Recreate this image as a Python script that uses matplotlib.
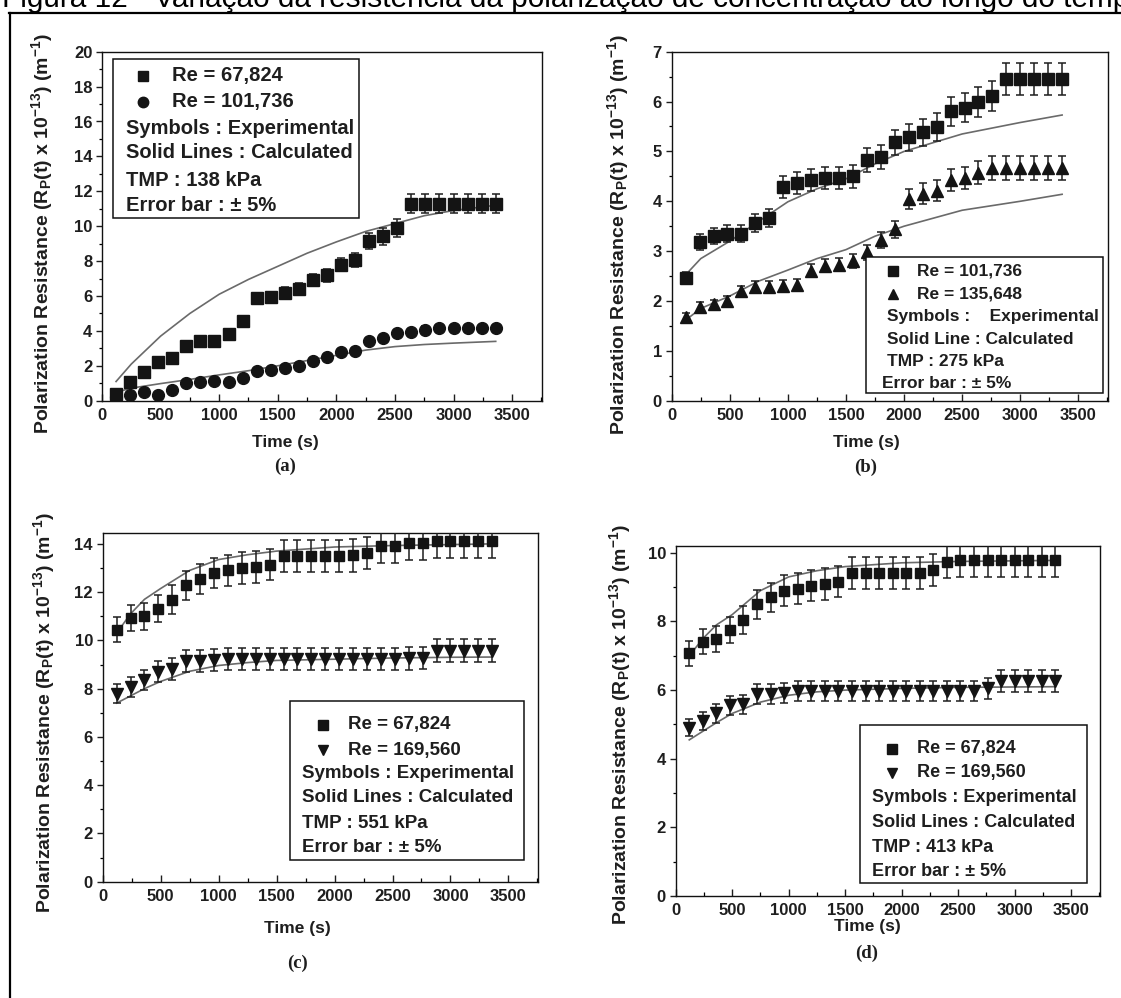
import matplotlib
matplotlib.use("Agg")
import matplotlib.pyplot as plt
from matplotlib.lines import Line2D
from matplotlib.patches import Rectangle
from matplotlib.ticker import MultipleLocator
import numpy as np

plt.rcParams['font.family'] = ['Liberation Sans', 'DejaVu Sans']
plt.rcParams['mathtext.fontset'] = 'custom'
plt.rcParams['mathtext.rm'] = 'Liberation Sans:bold'
plt.rcParams['mathtext.bf'] = 'Liberation Sans:bold'
plt.rcParams['mathtext.default'] = 'bf'

W, H = 1121, 998
TXT = '#1e1e1e'

# ---------------- data ----------------
time_s = [120, 240, 360, 480, 600, 720, 840, 960, 1080, 1200, 1320, 1440, 1560, 1680,
          1800, 1920, 2040, 2160, 2280, 2400, 2520, 2640, 2760, 2880, 3000, 3120, 3240, 3360]

# (a) TMP 138 kPa
a_re67824 = [0.4, 1.1, 1.63, 2.2, 2.45, 3.16, 3.44, 3.44, 3.8, 4.54, 5.88, 5.93, 6.2, 6.4,
             6.9, 7.18, 7.8, 8.04, 9.15, 9.42, 9.9, 11.3, 11.3, 11.3, 11.3, 11.3, 11.3, 11.3]
a_re101736 = [0.2, 0.3, 0.48, 0.33, 0.6, 1.0, 1.1, 1.15, 1.1, 1.28, 1.72, 1.76, 1.9, 2.0,
              2.3, 2.49, 2.78, 2.87, 3.44, 3.6, 3.87, 3.92, 4.08, 4.15, 4.15, 4.15, 4.15, 4.15]
a_calc_t = [120, 250, 500, 750, 1000, 1250, 1500, 1750, 2000, 2250, 2500, 2750, 3000, 3360]
a_calc_67824 = [1.1, 2.1, 3.7, 5.0, 6.1, 6.95, 7.7, 8.45, 9.1, 9.7, 10.15, 10.6, 10.9, 11.2]
a_calc_101736 = [0.48, 0.72, 0.98, 1.22, 1.48, 1.72, 2.0, 2.3, 2.6, 2.9, 3.1, 3.22, 3.3, 3.4]

# (b) TMP 275 kPa
b_re101736 = [2.46, 3.19, 3.3, 3.35, 3.35, 3.56, 3.66, 4.29, 4.37, 4.42, 4.47, 4.47, 4.5, 4.82,
              4.89, 5.18, 5.28, 5.38, 5.49, 5.81, 5.88, 5.99, 6.11, 6.46, 6.46, 6.46, 6.46, 6.46]
b_re135648 = [1.67, 1.88, 1.93, 2.0, 2.2, 2.29, 2.29, 2.31, 2.33, 2.61, 2.71, 2.73, 2.8, 2.98,
              3.23, 3.44, 4.05, 4.15, 4.21, 4.43, 4.47, 4.57, 4.67, 4.67, 4.67, 4.67, 4.67, 4.67]
b_calc_t = [150, 250, 500, 750, 1000, 1250, 1500, 1750, 2000, 2500, 3000, 3360]
b_calc_101736 = [2.6, 2.85, 3.2, 3.6, 3.99, 4.25, 4.45, 4.75, 5.0, 5.35, 5.58, 5.73]
b_calc_135648 = [1.67, 1.85, 2.1, 2.4, 2.62, 2.85, 3.03, 3.3, 3.5, 3.82, 4.0, 4.14]

# (c) TMP 551 kPa
c_re67824 = [10.44, 10.93, 11.0, 11.31, 11.69, 12.28, 12.54, 12.79, 12.9, 13.0, 13.04, 13.14, 13.49, 13.49,
             13.49, 13.49, 13.49, 13.52, 13.62, 13.9, 13.9, 14.04, 14.04, 14.13, 14.13, 14.13, 14.13, 14.13]
c_re169560 = [7.79, 8.06, 8.37, 8.71, 8.81, 9.13, 9.13, 9.2, 9.22, 9.22, 9.22, 9.22, 9.22, 9.22,
              9.22, 9.22, 9.22, 9.22, 9.22, 9.22, 9.22, 9.25, 9.27, 9.58, 9.58, 9.58, 9.58, 9.58]
c_calc_t = [120, 240, 360, 500, 750, 1000, 1250, 1500, 2000, 2500, 3000, 3360]
c_calc_67824 = [10.3, 11.1, 11.7, 12.15, 12.9, 13.35, 13.55, 13.7, 13.87, 13.93, 13.97, 14.0]
c_calc_169560 = [7.4, 7.7, 8.0, 8.3, 8.72, 8.96, 9.08, 9.17, 9.22, 9.27, 9.3, 9.31]

# (d) TMP 413 kPa
d_re67824 = [7.07, 7.41, 7.49, 7.75, 8.04, 8.5, 8.7, 8.9, 8.96, 9.04, 9.09, 9.16, 9.42, 9.42,
             9.42, 9.42, 9.42, 9.42, 9.5, 9.74, 9.79, 9.79, 9.79, 9.79, 9.79, 9.79, 9.79, 9.79]
d_re169560 = [4.91, 5.1, 5.32, 5.56, 5.59, 5.88, 5.88, 5.92, 5.98, 5.98, 5.98, 5.98, 5.98, 5.98,
              5.98, 5.98, 5.98, 5.98, 5.98, 5.98, 5.98, 5.98, 6.05, 6.27, 6.27, 6.27, 6.27, 6.27]
d_calc_t = [120, 240, 360, 500, 750, 1000, 1250, 1500, 2000, 2500, 3360]
d_calc_67824 = [7.0, 7.5, 7.9, 8.2, 8.9, 9.3, 9.48, 9.6, 9.71, 9.75, 9.78]
d_calc_169560 = [4.55, 4.8, 5.05, 5.32, 5.65, 5.85, 5.95, 6.0, 6.05, 6.08, 6.1]

ERR = 0.05

# ---------------- figure ----------------
fig = plt.figure(figsize=(W / 100, H / 100), dpi=100)
fig.patch.set_facecolor('white')


def fx(x):
    return x / W


def fy(y):
    return 1 - y / H


def add_ax(left, top, right, bottom):
    return fig.add_axes([fx(left), fy(bottom), (right - left) / W, (bottom - top) / H])


# title (clipped at top) and frame lines
fig.text(fx(2), fy(7), "Figura 12 - Variação da resistência da polarização de concentração ao longo do tempo",
         fontsize=21.4, color='black', ha='left', va='baseline')
fig.add_artist(Line2D([fx(9), fx(1121)], [fy(12.7), fy(12.7)], color='black', lw=1.6,
                      transform=fig.transFigure))
fig.add_artist(Line2D([fx(9.5), fx(9.5)], [fy(12.7), fy(998)], color='black', lw=1.6,
                      transform=fig.transFigure))

YLABEL = r"Polarization Resistance (R$_{\mathbf{P}}$(t) x 10$^{\mathbf{-13}}$) (m$^{\mathbf{-1}}$)"


def style_axis(ax, ymax, ymajor, yminor):
    ax.set_xlim(0, 3755)
    ax.set_ylim(0, ymax)
    ax.xaxis.set_major_locator(MultipleLocator(500))
    ax.xaxis.set_minor_locator(MultipleLocator(250))
    ax.yaxis.set_major_locator(MultipleLocator(ymajor))
    ax.yaxis.set_minor_locator(MultipleLocator(yminor))
    ax.tick_params(axis='x', which='major', direction='in', length=5, width=1.0, pad=5,
                   labelsize=12, colors=TXT)
    ax.tick_params(axis='x', which='minor', direction='in', length=3, width=0.9)
    ax.tick_params(axis='y', which='major', direction='out', length=4, width=1.0, pad=3,
                   labelsize=12, colors=TXT)
    ax.tick_params(axis='y', which='minor', direction='out', length=2.5, width=0.9)
    for lab in ax.get_xticklabels() + ax.get_yticklabels():
        lab.set_fontweight('bold')
    for sp in ax.spines.values():
        sp.set_linewidth(1.0)
        sp.set_color('#111111')
    ax.set_xticks([0, 500, 1000, 1500, 2000, 2500, 3000, 3500])
    ax.set_xticklabels(['0', '500', '1000', '1500', '2000', '2500', '3000', '3500'],
                       fontweight='bold')


def plot_series(ax, values, marker, ms):
    v = np.array(values)
    ax.errorbar(time_s, v, yerr=ERR * v, fmt=marker, ms=ms, color='#141414', mfc='#141414',
                mec='#141414', ecolor='#1e1e1e', elinewidth=1.1, capsize=3.2, capthick=1.1,
                zorder=3)


def plot_calc(ax, t, values):
    ax.plot(t, values, color='#6a6a6a', lw=1.2, zorder=2)


def legend_box(box, marker_x, re_x, other_x, ys, labels, markers, fs, ms, err_x=None):
    l, t, r, b = box
    fig.add_artist(Rectangle((fx(l), fy(b)), (r - l) / W, (b - t) / H, transform=fig.transFigure,
                             facecolor='white', edgecolor='#111111', lw=1.1, zorder=5))
    for i, lab in enumerate(labels):
        y = ys[i]
        if i < 2:
            fig.add_artist(Line2D([fx(marker_x)], [fy(y)], marker=markers[i], ms=ms, color='#141414',
                                  ls='none', transform=fig.transFigure, zorder=6))
            fig.text(fx(re_x), fy(y), lab, fontsize=fs, fontweight='bold', color=TXT,
                     ha='left', va='center', zorder=6)
        else:
            xx = other_x
            if err_x is not None and i == 5:
                xx = err_x
            fig.text(fx(xx), fy(y), lab, fontsize=fs, fontweight='bold', color=TXT,
                     ha='left', va='center', zorder=6)


# ---------- (a) ----------
ax_a = add_ax(102, 51.7, 542, 400.7)
style_axis(ax_a, 20, 2, 1)
plot_calc(ax_a, a_calc_t, a_calc_67824)
plot_calc(ax_a, a_calc_t, a_calc_101736)
plot_series(ax_a, a_re67824, 's', 8)
plot_series(ax_a, a_re101736, 'o', 8.5)
legend_box((112.7, 59.3, 359, 217.7), 143, 171.7, 125.7,
           [76, 101.7, 129, 153, 180, 205.7],
           ['Re = 67,824', 'Re = 101,736', 'Symbols : Experimental', 'Solid Lines : Calculated',
            'TMP : 138 kPa', 'Error bar : ± 5%'], ['s', 'o'], 14.5, 7.5)

# ---------- (b) ----------
ax_b = add_ax(671.7, 51.7, 1108, 400.7)
style_axis(ax_b, 7, 1, 0.5)
plot_calc(ax_b, b_calc_t, b_calc_101736)
plot_calc(ax_b, b_calc_t, b_calc_135648)
plot_series(ax_b, b_re101736, 's', 8)
plot_series(ax_b, b_re135648, '^', 9)
legend_box((865.7, 256.7, 1103.3, 393.3), 893, 916.7, 886.7,
           [270.7, 294, 316.7, 339, 361.7, 384],
           ['Re = 101,736', 'Re = 135,648', 'Symbols :    Experimental', 'Solid Line : Calculated',
            'TMP : 275 kPa', 'Error bar : ± 5%'], ['s', '^'], 12.5, 7, err_x=881.7)

# ---------- (c) ----------
ax_c = add_ax(102.7, 533, 538, 881.7)
style_axis(ax_c, 14.45, 2, 1)
plot_calc(ax_c, c_calc_t, c_calc_67824)
plot_calc(ax_c, c_calc_t, c_calc_169560)
plot_series(ax_c, c_re67824, 's', 7.5)
plot_series(ax_c, c_re169560, 'v', 8.5)
legend_box((290, 701, 524, 860), 323, 348, 301.7,
           [725, 750, 774, 798, 823, 847.7],
           ['Re = 67,824', 'Re = 169,560', 'Symbols : Experimental', 'Solid Lines : Calculated',
            'TMP : 551 kPa', 'Error bar : ± 5%'], ['s', 'v'], 13.5, 7)

# ---------- (d) ----------
ax_d = add_ax(675.7, 546, 1100, 896)
style_axis(ax_d, 10.2, 2, 1)
plot_calc(ax_d, d_calc_t, d_calc_67824)
plot_calc(ax_d, d_calc_t, d_calc_169560)
plot_series(ax_d, d_re67824, 's', 7.5)
plot_series(ax_d, d_re169560, 'v', 8.5)
legend_box((860, 725, 1087, 882.7), 891.7, 916.7, 871.7,
           [749, 773, 798, 822.7, 847.7, 871.7],
           ['Re = 67,824', 'Re = 169,560', 'Symbols : Experimental', 'Solid Lines : Calculated',
            'TMP : 413 kPa', 'Error bar : ± 5%'], ['s', 'v'], 13, 7)

# y labels
for (x, y) in [(42, 234), (618, 235), (44, 713), (620, 725)]:
    fig.text(fx(x), fy(y), YLABEL, rotation=90, fontsize=14, fontweight='bold', color=TXT,
             ha='center', va='center')

# x labels and panel letters
for (x, y, yl, letter) in [(285, 442, 466, '(a)'), (866, 443, 467, '(b)'),
                           (297, 929, 963, '(c)'), (867, 927, 953, '(d)')]:
    fig.text(fx(x), fy(y), 'Time (s)', fontsize=12.5, fontweight='bold', color=TXT,
             ha='center', va='center')
    fig.text(fx(x), fy(yl), letter, fontsize=13.5, fontweight='bold', color=TXT,
             family='Liberation Serif', ha='center', va='center')

fig.savefig('out.png', dpi=100, facecolor='white')
